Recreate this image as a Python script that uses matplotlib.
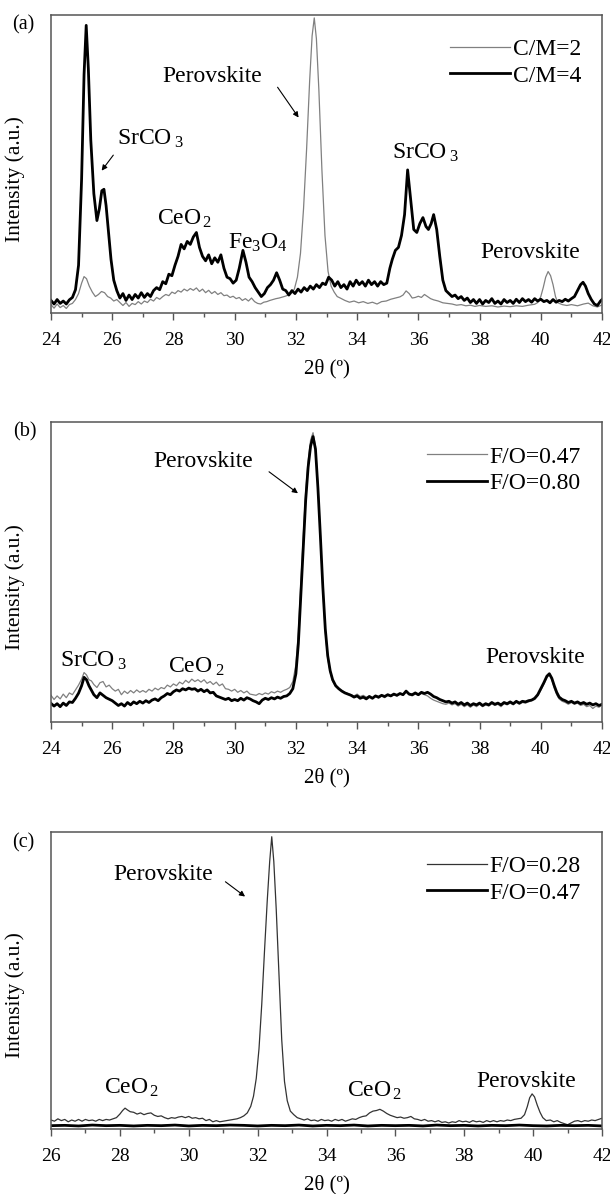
import matplotlib
matplotlib.use("Agg")
import matplotlib.pyplot as plt
from matplotlib.ticker import MultipleLocator

plt.rcParams['font.family'] = ['Liberation Serif', 'DejaVu Serif']
plt.rcParams['mathtext.fontset'] = 'custom'
plt.rcParams['mathtext.rm'] = 'Liberation Serif'
plt.rcParams['mathtext.it'] = 'Liberation Serif:italic'

# ---------------- panel (a): C/M=2 (thin) and C/M=4 (thick) ----------------
a_cm4_x = [24.0, 24.1, 24.2, 24.3, 24.4, 24.5, 24.6, 24.7, 24.8, 24.9, 25.0, 25.08, 25.15, 25.22, 25.3, 25.4,
           25.5, 25.58, 25.66, 25.73, 25.8, 25.88, 25.96, 26.05, 26.15, 26.25, 26.35, 26.45, 26.55, 26.65,
           26.75, 26.85, 26.95, 27.05, 27.15, 27.25, 27.35, 27.45, 27.55, 27.65, 27.75, 27.85, 27.95, 28.05,
           28.15, 28.25, 28.35, 28.45, 28.55, 28.65, 28.75, 28.85, 28.95, 29.05, 29.15, 29.25, 29.35, 29.45,
           29.55, 29.65, 29.75, 29.85, 29.95, 30.05, 30.15, 30.27, 30.37, 30.47, 30.57, 30.67, 30.77, 30.87,
           30.97, 31.07, 31.17, 31.27, 31.37, 31.47, 31.57, 31.67, 31.77, 31.87, 31.97, 32.07, 32.17, 32.27,
           32.37, 32.47, 32.57, 32.67, 32.77, 32.87, 32.97, 33.07, 33.17, 33.27, 33.37, 33.47, 33.57, 33.67,
           33.77, 33.87, 33.97, 34.07, 34.17, 34.27, 34.37, 34.47, 34.57, 34.67, 34.77, 34.87, 34.97, 35.07,
           35.15, 35.25, 35.35, 35.45, 35.55, 35.65, 35.75, 35.85, 35.95, 36.05, 36.15, 36.25, 36.33, 36.42,
           36.5, 36.6, 36.7, 36.8, 36.9, 37.0, 37.1, 37.2, 37.3, 37.4, 37.5, 37.6, 37.7, 37.8, 37.9, 38.0,
           38.1, 38.2, 38.3, 38.4, 38.5, 38.6, 38.7, 38.8, 38.9, 39.0, 39.1, 39.2, 39.3, 39.4, 39.5, 39.6,
           39.7, 39.8, 39.9, 40.0, 40.1, 40.2, 40.3, 40.4, 40.5, 40.6, 40.7, 40.8, 40.9, 41.0, 41.1, 41.2,
           41.3, 41.38, 41.46, 41.55, 41.65, 41.75, 41.85, 41.95, 42.0]
a_cm4_y = [4.2, 3.0, 4.5, 3.2, 4.0, 3.0, 4.4, 5.2, 7.8, 16, 45, 80, 96.5, 82, 58, 40,
           31, 35, 41, 41.5, 36, 27, 18, 11, 7.5, 5.0, 6.5, 4.2, 6.0, 4.5,
           6.2, 5.0, 6.8, 5.2, 6.5, 5.5, 7.5, 8.5, 7.8, 10.5, 9.8, 13, 12.5, 16,
           19, 23, 21.5, 24, 23, 25.5, 27, 22, 19, 17.5, 19.5, 16.5, 18.5, 17,
           19.5, 15, 12, 11.5, 10, 11, 15, 21, 17, 12, 10.5, 8.5, 7.0, 5.5,
           6.5, 8.5, 9.5, 11, 13.5, 11, 8, 7.5, 6.0, 7.5, 6.5, 8.0, 7.0, 8.5,
           7.5, 9.0, 8.0, 9.5, 8.5, 10, 9.5, 12, 11, 9.0, 10.5, 8.5, 9.5, 8.0,
           10.5, 9.0, 11, 9.5, 10.5, 9.0, 11, 9.5, 10.5, 9.0, 10.5, 9.5, 10, 15,
           18, 21, 22, 26, 33, 48, 38, 28, 27, 30, 32, 29, 28, 30,
           33, 28, 19, 11, 7.5, 6.5, 5.5, 6.0, 4.8, 5.5, 4.2, 5.0, 3.5, 4.5, 3.2, 4.5,
           3.0, 4.2, 3.5, 4.8, 3.2, 4.0, 3.0, 4.5, 3.5, 4.2, 3.2, 4.6, 3.5, 4.8, 3.8, 4.5,
           3.6, 4.8, 4.0, 4.6, 3.8, 4.2, 3.4, 4.5, 3.6, 4.2, 3.8, 4.6, 4.0, 4.8, 5.5, 7.5,
           9.5, 10.3, 9.0, 6.5, 4.5, 3.0, 2.5, 4.0, 4.5]

a_cm2_x = [24.0, 24.1, 24.2, 24.3, 24.4, 24.5, 24.6, 24.7, 24.8, 24.9, 25.0, 25.08, 25.16, 25.25, 25.35,
           25.45, 25.55, 25.65, 25.75, 25.85, 25.95, 26.05, 26.15, 26.25, 26.35, 26.45, 26.55, 26.65, 26.75,
           26.85, 26.95, 27.05, 27.15, 27.25, 27.35, 27.45, 27.55, 27.65, 27.75, 27.85, 27.95, 28.05, 28.15,
           28.25, 28.35, 28.45, 28.55, 28.65, 28.75, 28.85, 28.95, 29.05, 29.15, 29.25, 29.35, 29.45, 29.55,
           29.65, 29.75, 29.85, 29.95, 30.05, 30.15, 30.25, 30.35, 30.45, 30.55, 30.65, 30.75, 30.85, 30.95,
           31.05, 31.15, 31.25, 31.35, 31.45, 31.55, 31.65, 31.75, 31.85, 31.95, 32.05, 32.15, 32.25, 32.35,
           32.45, 32.53, 32.6, 32.67, 32.75, 32.85, 32.95, 33.05, 33.15, 33.25, 33.35, 33.45, 33.6, 33.75,
           33.9, 34.05, 34.2, 34.35, 34.5, 34.65, 34.8, 34.95, 35.1, 35.25, 35.4, 35.5, 35.6, 35.7, 35.8,
           35.9, 36.0, 36.1, 36.2, 36.3, 36.4, 36.5, 36.65, 36.8, 36.95, 37.1, 37.25, 37.4, 37.55, 37.7,
           37.85, 38.0, 38.2, 38.4, 38.6, 38.8, 39.0, 39.2, 39.4, 39.6, 39.8, 39.9, 40.0, 40.08, 40.16,
           40.24, 40.32, 40.4, 40.48, 40.56, 40.7, 40.85, 41.0, 41.2, 41.4, 41.55, 41.7, 41.85, 42.0]
a_cm2_y = [2.8, 1.6, 3.0, 1.8, 2.5, 1.5, 2.8, 3.2, 4.5, 6.5, 10, 12.2, 11.5, 9.0, 7.0,
           5.5, 6.2, 7.2, 6.8, 5.5, 5.0, 4.0, 4.5, 3.5, 2.5, 3.5, 2.2, 3.2, 2.8,
           3.8, 3.0, 4.0, 3.5, 4.6, 4.0, 5.2, 4.6, 5.5, 6.2, 5.8, 7.0, 6.5, 7.5,
           7.0, 8.0, 7.4, 8.2, 7.6, 8.4, 7.2, 8.0, 6.8, 7.6, 6.5, 7.2, 6.2, 6.8,
           5.8, 6.0, 5.2, 5.6, 4.8, 5.2, 4.2, 4.8, 4.0, 5.0, 3.8, 3.2, 3.0, 3.6,
           3.8, 4.2, 4.5, 4.8, 5.0, 5.3, 5.6, 6.0, 6.5, 8.0, 12, 20, 35, 55,
           78, 93, 99, 92, 75, 48, 26, 14, 9, 7, 5.5, 5.0, 4.2, 3.6,
           4.0, 3.4, 3.8, 3.2, 3.6, 3.0, 3.8, 4.0, 4.6, 5.0, 5.4, 6.0, 7.4, 6.5, 5.0,
           5.2, 5.6, 5.2, 6.2, 5.5, 4.8, 4.4, 4.0, 3.4, 3.2, 3.0, 2.6, 2.8, 2.4, 2.6,
           2.2, 2.5, 2.2, 2.4, 2.0, 2.3, 2.1, 2.4, 2.2, 2.6, 2.9, 3.5, 5.5, 8.5, 12,
           13.9, 12.5, 9.5, 5.5, 3.4, 2.8, 2.5, 2.8, 2.4, 3.0, 3.3, 2.4, 2.0, 2.7]

# ---------------- panel (b): F/O=0.47 (thin) and F/O=0.80 (thick) ----------------
b_x = [24.0, 24.1, 24.2, 24.3, 24.4, 24.5, 24.6, 24.7, 24.8, 24.9, 25.0, 25.08, 25.16, 25.24, 25.32,
       25.4, 25.5, 25.6, 25.7, 25.8, 25.9, 26.0, 26.1, 26.2, 26.3, 26.4, 26.5, 26.6, 26.7, 26.8, 26.9,
       27.0, 27.1, 27.2, 27.3, 27.4, 27.5, 27.6, 27.7, 27.8, 27.9, 28.0, 28.1, 28.2, 28.3, 28.4, 28.5,
       28.6, 28.7, 28.8, 28.9, 29.0, 29.1, 29.2, 29.3, 29.4, 29.5, 29.6, 29.7, 29.8, 29.9, 30.0, 30.1,
       30.2, 30.3, 30.4, 30.5, 30.6, 30.7, 30.8, 30.9, 31.0, 31.1, 31.2, 31.3, 31.4, 31.5, 31.6, 31.7,
       31.8, 31.9, 32.0, 32.08, 32.16, 32.24, 32.32, 32.4, 32.48, 32.56, 32.64, 32.72, 32.8, 32.88,
       32.96, 33.04, 33.12, 33.2, 33.3, 33.4, 33.5, 33.6, 33.7, 33.8, 33.9, 34.0, 34.1, 34.2, 34.3,
       34.4, 34.5, 34.6, 34.7, 34.8, 34.9, 35.0, 35.1, 35.2, 35.3, 35.4, 35.5, 35.6, 35.7, 35.8, 35.9,
       36.0, 36.1, 36.2, 36.3, 36.4, 36.5, 36.6, 36.7, 36.8, 36.9, 37.0, 37.1, 37.2, 37.3, 37.4, 37.5,
       37.6, 37.7, 37.8, 37.9, 38.0, 38.1, 38.2, 38.3, 38.4, 38.5, 38.6, 38.7, 38.8, 38.9, 39.0, 39.1,
       39.2, 39.3, 39.4, 39.5, 39.6, 39.7, 39.8, 39.9, 40.0, 40.1, 40.2, 40.28, 40.36, 40.44, 40.52,
       40.6, 40.7, 40.8, 40.9, 41.0, 41.1, 41.2, 41.3, 41.4, 41.5, 41.6, 41.7, 41.8, 41.9, 42.0]
b_fo080_y = [6.1, 5.2, 6.0, 5.0, 6.2, 5.4, 6.6, 6.4, 7.8, 9.5, 12, 14.8, 14.0, 12.0, 10.5,
             9.0, 8.0, 9.6, 8.8, 8.0, 7.5, 7.0, 6.2, 5.4, 6.0, 5.2, 6.4, 5.6, 6.6, 6.0, 6.8,
             6.2, 7.0, 6.4, 7.2, 7.6, 7.0, 8.0, 8.6, 9.4, 9.0, 10.0, 10.6, 10.2, 11.0, 10.6, 11.2,
             10.8, 11.0, 10.2, 10.8, 10.0, 10.6, 9.6, 9.8, 8.6, 8.2, 7.8, 7.4, 7.8, 7.0, 7.4, 7.0,
             7.8, 7.2, 8.0, 7.6, 7.0, 6.6, 6.0, 7.2, 7.8, 7.4, 8.0, 7.6, 8.2, 7.8, 8.4, 8.6,
             9.4, 11, 16, 26, 42, 58, 74, 85, 92, 95.2, 91, 78, 62, 45,
             31, 22, 17, 14, 12, 11, 10.2, 9.6, 9.2, 8.8, 8.2, 8.6, 7.8, 8.2, 7.6,
             8.4, 7.8, 8.6, 8.2, 8.8, 8.4, 9.0, 8.6, 9.2, 8.8, 9.4, 9.0, 10.2, 9.2, 9.0, 9.6,
             9.0, 9.8, 9.4, 9.8, 9.2, 8.4, 8.0, 7.4, 7.0, 6.6, 6.8, 6.2, 6.6, 5.8, 6.4, 5.6,
             6.2, 5.4, 6.0, 5.6, 6.2, 5.4, 6.0, 5.6, 6.4, 5.8, 6.2, 5.6, 6.4, 6.0, 6.6, 6.0,
             6.8, 6.2, 6.8, 6.6, 7.0, 7.2, 7.8, 9.0, 11, 13, 15.2, 16, 14.5, 12, 9.8,
             8.2, 7.4, 7.0, 6.4, 6.8, 6.2, 6.6, 6.0, 6.4, 5.8, 6.2, 5.6, 6.0, 5.4, 5.8]
b_fo047_y = [8.8, 7.4, 8.6, 7.6, 9.2, 8.0, 9.6, 9.0, 10.6, 12.2, 14.2, 16.4, 15.6, 14.0, 13.6,
             12.4, 11.4, 13.0, 13.4, 11.6, 12.2, 11.0, 10.2, 10.8, 9.0, 10.2, 9.4, 10.4, 9.6, 10.6, 9.8,
             10.4, 9.8, 10.8, 10.2, 11.2, 10.6, 11.4, 11.0, 12.2, 11.6, 12.6, 12.0, 13.2, 12.6, 13.8, 13.0,
             14.2, 13.4, 14.0, 13.2, 14.0, 12.8, 13.4, 12.4, 13.2, 12.0, 12.6, 11.0, 10.8, 10.2, 10.8, 9.8,
             10.4, 9.6, 10.2, 9.2, 9.0, 8.8, 9.4, 9.0, 9.6, 9.2, 10.0, 9.6, 10.2, 9.8, 10.4, 10.8,
             11.4, 13.4, 19, 30, 46, 62, 77, 87, 94, 96.5, 92, 79, 62, 44,
             30, 21, 16.5, 13.5, 11.8, 10.8, 10.4, 9.8, 9.4, 9.0, 8.6, 9.2, 8.4, 8.8, 8.2,
             8.6, 7.8, 8.4, 7.8, 8.6, 8.0, 8.8, 8.4, 9.0, 8.6, 9.2, 9.0, 10.0, 9.0, 8.6, 9.2,
             8.8, 9.4, 9.0, 8.6, 7.8, 7.2, 6.8, 6.4, 6.0, 5.8, 6.2, 5.6, 6.0, 5.2, 5.8, 5.0,
             5.6, 4.8, 5.6, 5.0, 5.8, 5.0, 5.6, 5.2, 6.0, 5.4, 5.8, 5.0, 6.0, 5.6, 6.2, 5.6,
             6.4, 5.8, 6.4, 6.2, 6.6, 7.0, 7.4, 8.6, 10.5, 12.5, 14.8, 15.6, 14.0, 11.2, 9.0,
             7.6, 6.8, 6.4, 5.8, 6.4, 5.8, 6.2, 5.4, 5.8, 5.0, 5.4, 4.4, 5.2, 4.8, 5.6]

# ---------------- panel (c): F/O=0.28 (thin) and F/O=0.47 (thick) ----------------
c_fo028_x = [26.0, 26.1, 26.2, 26.3, 26.4, 26.5, 26.6, 26.7, 26.8, 26.9, 27.0, 27.1, 27.2, 27.3, 27.4,
             27.5, 27.6, 27.7, 27.8, 27.9, 28.0, 28.08, 28.15, 28.22, 28.3, 28.4, 28.5, 28.6, 28.7, 28.8,
             28.9, 29.0, 29.1, 29.2, 29.3, 29.4, 29.5, 29.6, 29.7, 29.8, 29.9, 30.0, 30.1, 30.2, 30.3,
             30.4, 30.5, 30.6, 30.7, 30.8, 30.9, 31.0, 31.1, 31.2, 31.3, 31.4, 31.5, 31.6, 31.7, 31.8,
             31.88, 31.96, 32.04, 32.12, 32.2, 32.28, 32.35, 32.41, 32.47, 32.54, 32.62, 32.7, 32.78, 32.86,
             32.95, 33.05, 33.15, 33.25, 33.35, 33.45, 33.55, 33.65, 33.75, 33.85, 33.95, 34.05, 34.15,
             34.25, 34.35, 34.45, 34.55, 34.65, 34.75, 34.85, 34.95, 35.05, 35.15, 35.25, 35.35, 35.45,
             35.55, 35.65, 35.75, 35.85, 35.95, 36.05, 36.15, 36.25, 36.35, 36.45, 36.55, 36.65, 36.75,
             36.85, 36.95, 37.05, 37.15, 37.25, 37.35, 37.45, 37.55, 37.65, 37.75, 37.85, 37.95, 38.05,
             38.15, 38.25, 38.35, 38.45, 38.55, 38.65, 38.75, 38.85, 38.95, 39.05, 39.15, 39.25, 39.35,
             39.45, 39.55, 39.65, 39.75, 39.83, 39.9, 39.97, 40.04, 40.12, 40.2, 40.28, 40.38, 40.5,
             40.6, 40.7, 40.8, 40.9, 41.0, 41.1, 41.2, 41.3, 41.4, 41.5, 41.6, 41.7, 41.8, 41.9, 42.0]
c_fo028_y = [3.0, 2.6, 3.4, 2.8, 3.2, 2.4, 3.0, 2.6, 3.2, 2.6, 3.2, 2.8, 3.0, 2.6, 3.2,
             2.8, 3.2, 3.0, 3.4, 3.8, 5.0, 6.2, 7.0, 6.4, 5.8, 5.6, 5.0, 5.4, 4.8, 5.2,
             5.4, 4.6, 4.2, 4.4, 3.8, 3.4, 3.8, 3.6, 4.0, 4.2, 3.8, 4.2, 3.6, 3.8, 3.4,
             3.6, 2.8, 3.2, 2.4, 2.8, 2.4, 2.6, 2.8, 3.0, 3.2, 3.4, 3.8, 4.4, 5.4, 7.6,
             11, 17, 27, 42, 60, 77, 90, 98.4, 90, 74, 52, 30, 16, 9.5,
             6.0, 4.8, 3.8, 3.4, 3.0, 3.4, 2.8, 3.0, 2.6, 3.2, 2.8, 3.0, 2.6,
             3.2, 2.8, 3.2, 2.6, 3.0, 3.4, 3.2, 3.8, 4.2, 4.4, 5.4, 6.0, 6.2,
             6.6, 6.0, 5.2, 4.6, 4.2, 3.8, 4.0, 3.6, 3.8, 4.2, 3.4, 3.2, 2.8,
             3.2, 2.6, 2.8, 2.4, 2.8, 2.2, 2.4, 2.0, 2.4, 2.2, 2.8, 2.4, 2.6,
             2.2, 2.8, 2.4, 2.6, 2.2, 2.8, 2.4, 2.8, 2.4, 2.8, 2.6, 3.0, 2.8,
             3.2, 3.4, 3.6, 4.8, 7.5, 10.5, 11.8, 10.8, 8.0, 5.6, 3.8, 2.8, 3.0,
             2.4, 2.8, 2.2, 1.8, 1.4, 2.0, 2.6, 2.8, 2.4, 2.8, 2.6, 3.0, 2.8, 3.2, 3.6]

c_fo047_x = [26.0, 26.4, 26.8, 27.2, 27.6, 28.0, 28.4, 28.8, 29.2, 29.6, 30.0, 30.4, 30.8, 31.2,
             31.6, 32.0, 32.4, 32.8, 33.2, 33.6, 34.0, 34.4, 34.8, 35.2, 35.6, 36.0, 36.4, 36.8,
             37.2, 37.6, 38.0, 38.4, 38.8, 39.2, 39.6, 40.0, 40.4, 40.8, 41.2, 41.6, 42.0]
c_fo047_y = [1.1, 1.2, 1.0, 1.3, 1.1, 1.2, 1.0, 1.2, 1.1, 1.3, 1.0, 1.2, 1.1, 1.3,
             1.2, 1.0, 1.2, 1.1, 1.3, 1.0, 1.2, 1.1, 1.3, 1.0, 1.2, 1.1, 1.2, 1.0,
             1.3, 1.1, 1.2, 1.0, 1.2, 1.1, 1.3, 1.1, 1.0, 1.2, 1.1, 1.2, 1.0]

GRAY = '#808080'
SPINE = '#555555'

fig = plt.figure(figsize=(6.10, 11.94), dpi=100)

# posiciones de los tres paneles (izq, abajo, ancho, alto)
ax_a = fig.add_axes([0.0836, 0.7379, 0.9033, 0.2496])
ax_b = fig.add_axes([0.0836, 0.3956, 0.9033, 0.2508])
ax_c = fig.add_axes([0.0836, 0.0545, 0.9033, 0.2487])


def estilo(ax, xmin, xmax):
    ax.set_xlim(xmin, xmax)
    ax.set_ylim(0, 100)
    ax.set_yticks([])
    ax.xaxis.set_major_locator(MultipleLocator(2))
    ax.xaxis.set_minor_locator(MultipleLocator(1))
    ax.tick_params(axis='x', which='major', direction='out', length=5, width=1,
                   color=SPINE, labelsize=14, pad=9)
    ax.tick_params(axis='x', which='minor', direction='out', length=3, width=1, color=SPINE)
    for s in ax.spines.values():
        s.set_color(SPINE)
        s.set_linewidth(1.1)
    ax.set_xlabel('2θ (º)', fontsize=15, labelpad=7)
    ax.set_ylabel('Intensity (a.u.)', fontsize=15.5)
    ax.yaxis.set_label_coords(-0.047, 0.45)


def flecha(ax, xy, xytext):
    ax.annotate('', xy=xy, xytext=xytext,
                arrowprops=dict(arrowstyle='-|>', color='k', lw=0.8, mutation_scale=8))


def leyenda(ax):
    ax.legend(loc='upper right', bbox_to_anchor=(0.962, 0.92), frameon=False, fontsize=17,
              handlelength=2.55, handletextpad=0.12, labelspacing=0.2, borderpad=0, borderaxespad=0)


# ---- (a) ----
ax_a.plot(a_cm2_x, a_cm2_y, color=GRAY, lw=0.9, label='C/M=2')
ax_a.plot(a_cm4_x, a_cm4_y, color='k', lw=2.0, label='C/M=4')
estilo(ax_a, 24, 42)
leyenda(ax_a)
fs = 17
ax_a.text(27.64, 77.6, 'Perovskite', fontsize=fs, va='baseline')
flecha(ax_a, (32.14, 64.8), (31.35, 76.5))
ax_a.text(26.15, 56.4, r'$\mathrm{SrCO}_{\ 3}$', fontsize=fs, va='baseline')
flecha(ax_a, (25.6, 47), (26.09, 53.7))
ax_a.text(27.45, 29.5, r'$\mathrm{CeO}_{\,2}$', fontsize=fs, va='baseline')
ax_a.text(29.77, 21.7, r'$\mathrm{Fe}_{3}\mathrm{O}_{4}$', fontsize=fs, va='baseline')
ax_a.text(35.13, 51.9, r'$\mathrm{SrCO}_{\ 3}$', fontsize=fs, va='baseline')
ax_a.text(38.02, 18.4, 'Perovskite', fontsize=fs, va='baseline')

# ---- (b) ----
ax_b.plot(b_x, b_fo047_y, color=GRAY, lw=0.9, label='F/O=0.47')
ax_b.plot(b_x, b_fo080_y, color='k', lw=2.0, label='F/O=0.80')
estilo(ax_b, 24, 42)
leyenda(ax_b)
ax_b.text(27.34, 85.2, 'Perovskite', fontsize=fs, va='baseline')
flecha(ax_b, (32.14, 75.7), (31.05, 84))
ax_b.text(24.29, 18.4, r'$\mathrm{SrCO}_{\ 3}$', fontsize=fs, va='baseline')
ax_b.text(27.83, 16.2, r'$\mathrm{CeO}_{\ 2}$', fontsize=fs, va='baseline')
ax_b.text(38.18, 19.5, 'Perovskite', fontsize=fs, va='baseline')

# ---- (c) ----
ax_c.plot(c_fo028_x, c_fo028_y, color='#333333', lw=0.9, label='F/O=0.28')
ax_c.plot(c_fo047_x, c_fo047_y, color='k', lw=2.0, label='F/O=0.47')
estilo(ax_c, 26, 42)
leyenda(ax_c)
ax_c.text(27.81, 83.8, 'Perovskite', fontsize=fs, va='baseline')
flecha(ax_c, (31.7, 77.7), (31.0, 83.8))
ax_c.text(27.54, 12.0, r'$\mathrm{CeO}_{\,2}$', fontsize=fs, va='baseline')
ax_c.text(34.59, 10.9, r'$\mathrm{CeO}_{\,2}$', fontsize=fs, va='baseline')
ax_c.text(38.36, 14.2, 'Perovskite', fontsize=fs, va='baseline')

# etiquetas de panel
fig.text(23 / 610, 1 - 25 / 1194, '(a)', fontsize=14.5, ha='center', va='center')
fig.text(25 / 610, 1 - 432 / 1194, '(b)', fontsize=14.5, ha='center', va='center')
fig.text(23 / 610, 1 - 843 / 1194, '(c)', fontsize=14.5, ha='center', va='center')

fig.savefig('out.png', dpi=100)
